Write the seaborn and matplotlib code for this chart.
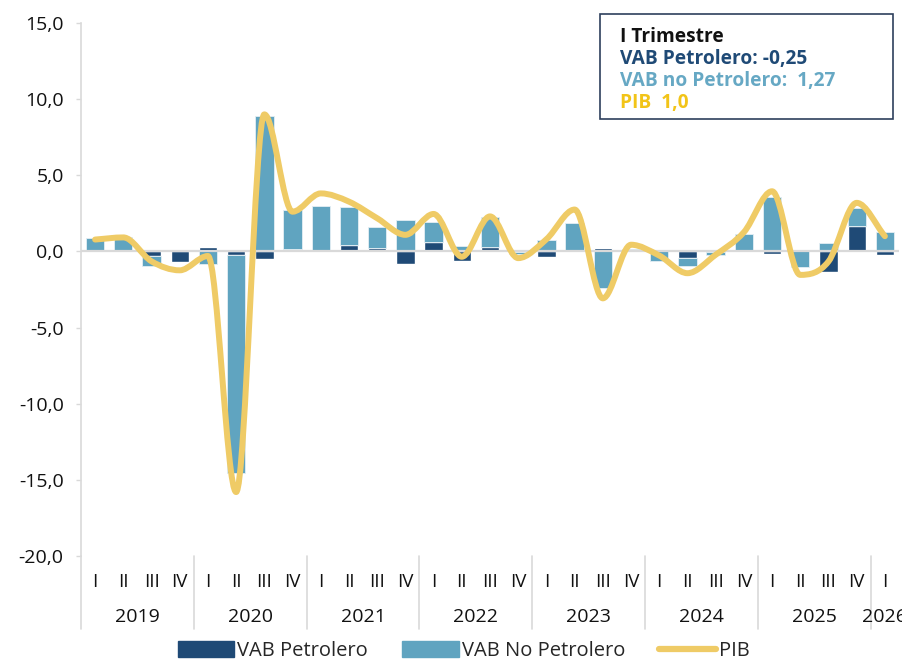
import numpy as np
import matplotlib.pyplot as plt
import seaborn as sns
from matplotlib.path import Path
from matplotlib.patches import PathPatch, Patch, Rectangle
from matplotlib.lines import Line2D
from matplotlib.transforms import blended_transform_factory

# --------------------------------------------------
# Data (variación trimestral, %)
# --------------------------------------------------
years = ["2019", "2020", "2021", "2022", "2023", "2024", "2025", "2026"]
quarters = ["I", "II", "III", "IV"] * 7 + ["I"]
bar_year = [y for y in years[:-1] for _ in range(4)] + ["2026"]

vab_petrolero = [0.0, 0.0, -0.33, -0.70, 0.32, -0.22, -0.50, 0.17,
                 0.07, 0.44, 0.24, -0.83, 0.63, -0.60, 0.26, -0.05,
                 -0.38, 0.0, 0.25, 0.05, 0.08, -0.40, -0.05, 0.0,
                 -0.17, 0.0, -1.38, 1.64, -0.25]
vab_no_petrolero = [0.87, 0.98, -0.62, 0.0, -0.85, -14.34, 8.90, 2.55,
                    2.93, 2.48, 1.35, 2.09, 1.33, 0.33, 1.99, -0.15,
                    0.72, 1.87, -2.42, 0.10, -0.65, -0.56, -0.20, 1.16,
                    3.57, -1.05, 0.55, 1.21, 1.27]
pib = [0.78, 0.92, -0.65, -1.24, -0.30, -15.8, 9.0, 2.61,
       3.81, 3.27, 2.18, 1.09, 2.46, -0.35, 2.30, -0.44,
       0.80, 2.75, -3.08, 0.44, -0.27, -1.43, -0.22, 1.26,
       3.95, -1.54, -0.66, 3.19, 1.0]

DARK = "#1f4a76"
LIGHT = "#60a4c0"
YELLOW = "#efcb66"
GRID = "#d9d9d9"

sns.set_theme(style="white")
plt.rcParams["font.family"] = ["Open Sans", "DejaVu Sans"]

fig = plt.figure(figsize=(9.02, 6.6), dpi=100)
ax = fig.add_axes([81 / 902, 1 - 556 / 660, 818 / 902, 533 / 660])

x = np.arange(len(pib))
pet = np.array(vab_petrolero)
nonpet = np.array(vab_no_petrolero)
# stacking like Excel: positives go up from 0, negatives go down from 0
non_bottom = np.where((nonpet >= 0) == (pet >= 0), pet, 0.0)

ax.bar(x, pet, width=0.65, color=DARK, zorder=2)
ax.bar(x, nonpet, bottom=non_bottom, width=0.65, color=LIGHT,
       edgecolor="#e4eef4", linewidth=0.6, zorder=2)
ax.axhline(0, color=GRID, lw=1.6, zorder=3)

# smoothed PIB line: Fritsch-Carlson monotone cubic drawn as bezier
y = np.array(pib, dtype=float)
d = np.diff(y)
m = np.zeros_like(y)
m[0], m[-1] = d[0], d[-1]
for k in range(1, len(y) - 1):
    if d[k - 1] * d[k] > 0:
        m[k] = (d[k - 1] + d[k]) / 2
for k in range(len(d)):
    if d[k] == 0:
        m[k] = m[k + 1] = 0
        continue
    a, b = m[k] / d[k], m[k + 1] / d[k]
    s = a * a + b * b
    if s > 9:
        t = 3 / np.sqrt(s)
        m[k], m[k + 1] = t * a * d[k], t * b * d[k]
verts = [(x[0], y[0])]
codes = [Path.MOVETO]
for i in range(len(y) - 1):
    verts += [(x[i] + 1 / 3, y[i] + m[i] / 3),
              (x[i + 1] - 1 / 3, y[i + 1] - m[i + 1] / 3),
              (x[i + 1], y[i + 1])]
    codes += [Path.CURVE4] * 3
ax.add_patch(PathPatch(Path(verts, codes), fill=False, edgecolor=YELLOW,
                       lw=4.3, capstyle="round", joinstyle="round", zorder=4))

# axes styling
ax.set_xlim(-0.5, len(pib) - 0.5)
ax.set_ylim(-20, 15)
yt = np.arange(-20, 16, 5)
ax.set_yticks(yt)
ax.set_yticklabels([f"{v:.1f}".replace(".", ",") for v in yt])
ax.set_xticks(x)
ax.set_xticklabels(quarters)
ax.tick_params(axis="y", length=3.5, width=1, color=GRID, pad=9,
               labelsize=14, labelcolor="#111111", left=True)
ax.tick_params(axis="x", length=0, pad=12, labelsize=13.5,
               labelcolor="#111111")
for side in ["top", "right", "bottom"]:
    ax.spines[side].set_visible(False)
ax.spines["left"].set_color(GRID)
ax.spines["left"].set_linewidth(1.2)

# year separators and labels
trans = blended_transform_factory(ax.transData, ax.transAxes)
for b in np.arange(-0.5, len(pib), 4):
    ax.add_line(Line2D([b, b], [0, -0.137], transform=trans, color=GRID,
                       lw=1.2, clip_on=False))
for yr in years:
    idx = [i for i, by in enumerate(bar_year) if by == yr]
    ax.text(np.mean(idx), -0.1144, yr, transform=trans, ha="center",
            va="center", fontsize=14, color="#111111", clip_on=False)

# legend
handles = [Patch(color=DARK), Patch(color=LIGHT),
           Line2D([0], [0], color=YELLOW, lw=4.5, solid_capstyle="round")]
fig.legend(handles, ["VAB Petrolero", "VAB No Petrolero", "PIB"],
           loc="center", bbox_to_anchor=(0.514, 0.013), ncol=3,
           frameon=False, fontsize=14.5, handlelength=2.8,
           handleheight=0.85, handletextpad=0.15, columnspacing=1.7)

# annotation box
fig.patches.append(Rectangle((600 / 902, 1 - 119 / 660), 293 / 902, 105 / 660,
                             transform=fig.transFigure, fill=False,
                             edgecolor="#2e3f5c", lw=1.2))


def fmt(v, dec):
    return f"{v:.{dec}f}".replace(".", ",")


lines = [("I Trimestre", "#111111"),
         (f"VAB Petrolero: {fmt(pet[-1], 2)}", DARK),
         (f"VAB no Petrolero:  {fmt(nonpet[-1], 2)}", "#66a8c4"),
         (f"PIB  {fmt(pib[-1], 1)}", "#f2c418")]
for k, (txt, col) in enumerate(lines):
    fig.text(620 / 902, 1 - (37 + 22 * k) / 660, txt, color=col,
             fontsize=13.8, fontweight="bold", va="center", ha="left")

fig.savefig("out.png", dpi=100)
